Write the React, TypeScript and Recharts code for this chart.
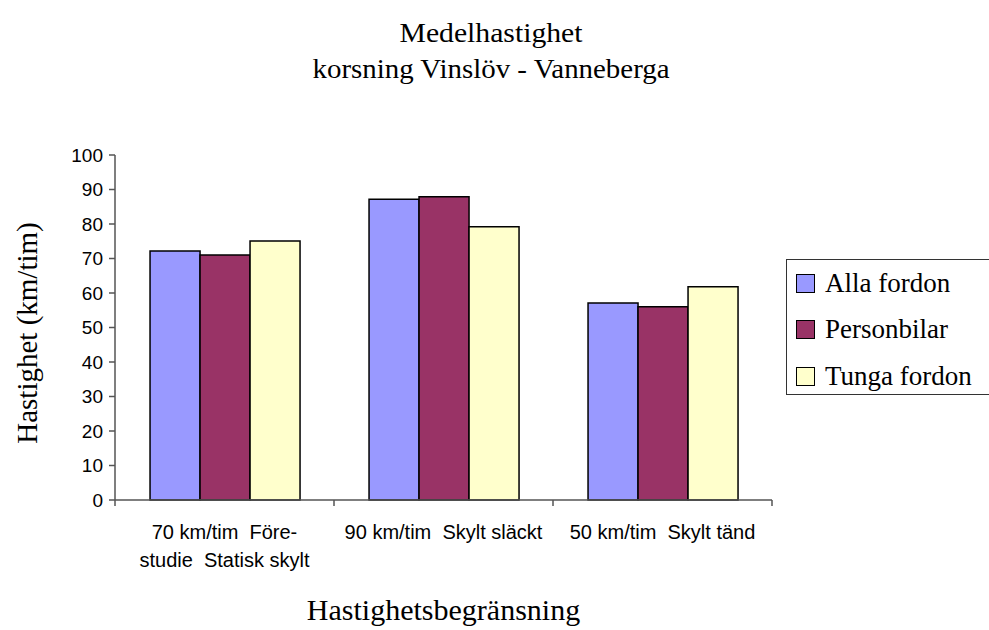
import React from "react";
import { BarChart, Bar, XAxis, YAxis, Legend, Label } from "recharts";

const CATEGORIES = ["70 km/tim  Före-\nstudie  Statisk skylt", "90 km/tim  Skylt släckt", "50 km/tim  Skylt tänd"];
const ALLA_FORDON = [72.2, 87.2, 57.1];
const PERSONBILAR = [71.0, 87.9, 56.0];
const TUNGA_FORDON = [75.1, 79.2, 61.8];
const Y_TICKS = [0, 10, 20, 30, 40, 50, 60, 70, 80, 90, 100];

const SERIES = [
  { key: "alla", name: "Alla fordon", color: "#9999FF" },
  { key: "person", name: "Personbilar", color: "#993366" },
  { key: "tunga", name: "Tunga fordon", color: "#FFFFCC" },
];

const data = CATEGORIES.map((c, i) => ({
  cat: c,
  alla: ALLA_FORDON[i],
  person: PERSONBILAR[i],
  tunga: TUNGA_FORDON[i],
}));

const W = 989;
const H = 630;
const M = { top: 155, right: 217, bottom: 50, left: 55 };
const Y_AXIS_W = 60;
const PLOT_W = W - M.left - M.right - Y_AXIS_W;
const HALF_BAND = PLOT_W / CATEGORIES.length / 2;
const SERIF = "'Liberation Serif', 'Times New Roman', serif";
const SANS = "'Liberation Sans', Arial, sans-serif";
const AXIS = "#555";

const XTick = (props: any) => {
  const { x, y, payload, index } = props;
  const lines = String(payload.value).split("\n");
  return (
    <g>
      <line x1={x - HALF_BAND} y1={y - 8} x2={x - HALF_BAND} y2={y - 2} stroke={AXIS} strokeWidth={1.5} />
      {index === CATEGORIES.length - 1 && (
        <line x1={x + HALF_BAND} y1={y - 8} x2={x + HALF_BAND} y2={y - 2} stroke={AXIS} strokeWidth={1.5} />
      )}
      <text x={x} y={y + 31} textAnchor="middle" fontFamily={SANS} fontSize={20} fill="#000">
        {lines.map((l, i) => (
          <tspan key={i} x={x} dy={i === 0 ? 0 : 28} style={{ whiteSpace: "pre" }}>
            {l}
          </tspan>
        ))}
      </text>
    </g>
  );
};

const LegendBox = () => (
  <div
    style={{
      border: "1px solid #333",
      width: 230,
      height: 136,
      boxSizing: "border-box",
      background: "#fff",
    }}
  >
    {SERIES.map((s) => (
      <div key={s.key} style={{ display: "flex", alignItems: "center", height: 46.5, paddingLeft: 9 }}>
        <div style={{ width: 17, height: 17, background: s.color, border: "1.5px solid #000", marginRight: 10 }} />
        <span style={{ fontFamily: SERIF, fontSize: 27, color: "#000", lineHeight: 1 }}>{s.name}</span>
      </div>
    ))}
  </div>
);

export default function App() {
  return (
    <div style={{ position: "absolute", left: 0, top: 0, width: W, height: H, overflow: "hidden", background: "#fff" }}>
      <svg width={W} height={100} style={{ position: "absolute", left: 0, top: 0 }}>
        <text x={491} y={42} textAnchor="middle" fontFamily={SERIF} fontSize={28} textLength={183} lengthAdjust="spacingAndGlyphs">
          Medelhastighet
        </text>
        <text x={491} y={78} textAnchor="middle" fontFamily={SERIF} fontSize={28} textLength={357} lengthAdjust="spacingAndGlyphs">
          korsning Vinslöv - Vanneberga
        </text>
      </svg>
      <BarChart width={W} height={H} data={data} margin={M} barCategoryGap="16%" barGap={0}>
        <XAxis
          dataKey="cat"
          interval={0}
          axisLine={{ stroke: AXIS, strokeWidth: 1.5 }}
          tickLine={false}
          tick={<XTick />}
          height={80}
        >
          <Label
            content={() => (
              <text x={443.5} y={620} textAnchor="middle" fontFamily={SERIF} fontSize={30} fill="#000">
                Hastighetsbegränsning
              </text>
            )}
          />
        </XAxis>
        <YAxis
          domain={[0, 100]}
          ticks={Y_TICKS}
          interval={0}
          width={Y_AXIS_W}
          axisLine={{ stroke: AXIS, strokeWidth: 1.5 }}
          tickLine={{ stroke: AXIS, strokeWidth: 1.5 }}
          tickSize={6}
          tickMargin={6}
          tick={{ fontFamily: SANS, fontSize: 19, fill: "#000" }}
        >
          <Label
            content={() => (
              <text
                x={37}
                y={333}
                transform="rotate(-90 37 333)"
                textAnchor="middle"
                fontFamily={SERIF}
                fontSize={29}
                fill="#000"
              >
                Hastighet (km/tim)
              </text>
            )}
          />
        </YAxis>
        <Legend
          layout="horizontal"
          verticalAlign="middle"
          align="center"
          content={<LegendBox />}
          wrapperStyle={{ position: "absolute", left: 786, top: 259, width: 230, height: 136 }}
        />
        {SERIES.map((s) => (
          <Bar
            key={s.key}
            dataKey={s.key}
            name={s.name}
            fill={s.color}
            stroke="#000"
            strokeWidth={1.5}
            isAnimationActive={false}
          />
        ))}
      </BarChart>
    </div>
  );
}
